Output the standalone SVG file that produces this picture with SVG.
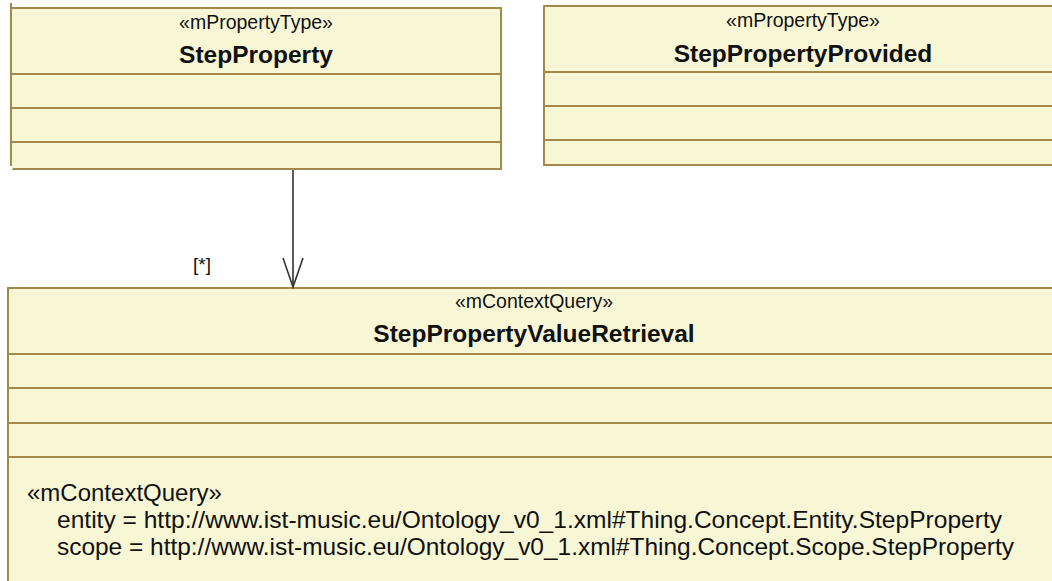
<svg xmlns="http://www.w3.org/2000/svg" width="1052" height="581" viewBox="0 0 1052 581">
  <style>
    .box { fill: #f7f7d6; stroke: #a48a4a; stroke-width: 2; }
    .sep { stroke: #a48a4a; stroke-width: 2; fill: none; }
    .st { font-family: "Liberation Sans", Arial, sans-serif; font-size: 19.5px; fill: #111; text-anchor: middle; }
    .nm { font-family: "Liberation Sans", Arial, sans-serif; font-size: 24.5px; font-weight: bold; fill: #111; text-anchor: middle; }
    .tx { font-family: "Liberation Sans", Arial, sans-serif; font-size: 24px; fill: #111; }
    .conn { stroke: #333; stroke-width: 1.6; fill: none; }
  </style>
  <rect width="1052" height="581" fill="#ffffff"/>

  <!-- StepProperty class -->
  <g id="StepProperty">
    <path class="box" d="M11 8 H501 V169 H12" />
    <rect x="11" y="8" width="490" height="161" fill="#f7f7d6"/>
    <path class="sep" d="M11 8 H501 V169 H13" />
    <line class="sep" x1="11" y1="3" x2="11" y2="166"/>
    <line class="sep" x1="11" y1="74" x2="501" y2="74"/>
    <line class="sep" x1="11" y1="108" x2="501" y2="108"/>
    <line class="sep" x1="11" y1="142" x2="501" y2="142"/>
    <text class="st" x="256" y="29">«mPropertyType»</text>
    <text class="nm" x="256" y="63">StepProperty</text>
  </g>

  <!-- StepPropertyProvided class -->
  <g id="StepPropertyProvided">
    <rect class="box" x="544" y="6" width="520" height="159"/>
    <line class="sep" x1="544" y1="72" x2="1060" y2="72"/>
    <line class="sep" x1="544" y1="106" x2="1060" y2="106"/>
    <line class="sep" x1="544" y1="140" x2="1060" y2="140"/>
    <text class="st" x="803" y="27">«mPropertyType»</text>
    <text class="nm" x="803" y="62">StepPropertyProvided</text>
  </g>

  <!-- StepPropertyValueRetrieval class -->
  <g id="StepPropertyValueRetrieval">
    <rect class="box" x="8" y="288" width="1060" height="310"/>
    <line class="sep" x1="8" y1="354" x2="1060" y2="354"/>
    <line class="sep" x1="8" y1="388" x2="1060" y2="388"/>
    <line class="sep" x1="8" y1="423" x2="1060" y2="423"/>
    <line class="sep" x1="8" y1="457" x2="1060" y2="457"/>
    <text class="st" x="534" y="308">«mContextQuery»</text>
    <text class="nm" x="534" y="342">StepPropertyValueRetrieval</text>
    <text class="tx" x="27" y="501">«mContextQuery»</text>
    <text class="tx" x="57" y="528" textLength="945" lengthAdjust="spacingAndGlyphs">entity = http://www.ist-music.eu/Ontology_v0_1.xml#Thing.Concept.Entity.StepProperty</text>
    <text class="tx" x="57" y="555" textLength="957" lengthAdjust="spacingAndGlyphs">scope = http://www.ist-music.eu/Ontology_v0_1.xml#Thing.Concept.Scope.StepProperty</text>
  </g>

  <!-- association StepProperty -> StepPropertyValueRetrieval -->
  <g id="connectors">
    <line class="conn" x1="293" y1="170" x2="293" y2="287"/>
    <polyline class="conn" points="283,258 293,287 303,258"/>
    <text class="tx" x="193" y="271" style="font-size:19px">[*]</text>
  </g>
</svg>
